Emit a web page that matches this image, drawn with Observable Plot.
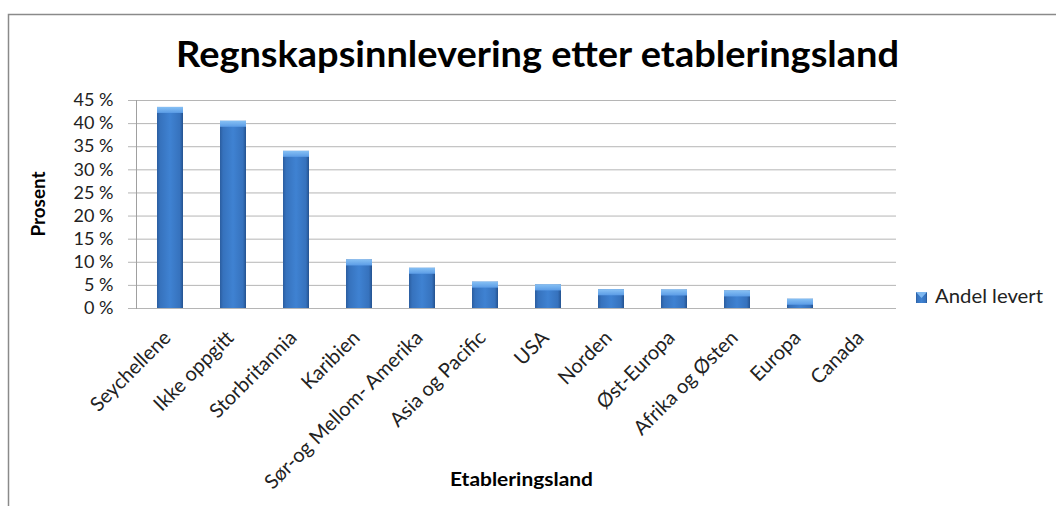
<!DOCTYPE html>
<html>
<head>
<meta charset="utf-8">
<script src="https://cdn.jsdelivr.net/npm/d3@7"></script>
<script src="https://cdn.jsdelivr.net/npm/@observablehq/plot@0.6"></script>
<style>
  html, body { margin: 0; padding: 0; background: #fff; }
  #chart svg { display: block; }
</style>
</head>
<body>
<div id="chart"></div>
<script>
const titleText = "Regnskapsinnlevering etter etableringsland";
const yLabel = "Prosent";
const xLabel = "Etableringsland";
const seriesName = "Andel levert";

const categories = [
  "Seychellene", "Ikke oppgitt", "Storbritannia", "Karibien",
  "Sør-og Mellom- Amerika", "Asia og Pacific", "USA", "Norden",
  "Øst-Europa", "Afrika og Østen", "Europa", "Canada"
];
const values = [43.5, 40.5, 34.0, 10.5, 8.7, 5.7, 5.1, 4.05, 4.0, 3.8, 2.0, 0];
const yTicks = [0, 5, 10, 15, 20, 25, 30, 35, 40, 45];

const data = categories.map((c, i) => ({category: c, value: values[i]}));

const W = 1056, H = 506;
const font = "Lato, 'Open Sans', sans-serif";

const chart = Plot.plot({
  width: W,
  height: H,
  marginLeft: 136,
  marginRight: 160,
  marginTop: 100,
  marginBottom: 198,
  style: {fontFamily: font, background: "#fff", color: "#222", overflow: "visible"},
  x: {domain: categories, paddingInner: 0.59, paddingOuter: 0.295, label: null},
  y: {domain: [0, 45], label: null},
  marks: [
    Plot.gridY(yTicks, {stroke: "#b5b5b5", strokeOpacity: 1, strokeWidth: 1}),
    Plot.axisY(yTicks, {
      tickSize: 8, tickPadding: 15, stroke: "#b5b5b5", strokeOpacity: 1,
      tickFormat: d => `${d} %`, fontSize: 18, fill: "#222", label: null
    }),
    Plot.frame({anchor: "left", stroke: "#a0a0a0"}),
    Plot.axisX({
      tickSize: 0, tickRotate: -45, tickPadding: 26, fontSize: 20,
      fill: "#222", label: null, dx: -3
    }),
    Plot.barY(data, {x: "category", y: "value", fill: "url(#barGrad)",
      style: {filter: "drop-shadow(2px 2px 1.5px rgba(0,0,0,0.35))"}}),
    Plot.barY(data.filter(d => d.value > 0), {
      x: "category", y1: "value", y2: "value", insetBottom: -6,
      fill: "url(#capGrad)"
    })
  ]
});

const svg = d3.select(chart);
const defs = svg.insert("defs", ":first-child");
const g1 = defs.append("linearGradient").attr("id", "barGrad")
  .attr("x1", "0").attr("x2", "1").attr("y1", "0").attr("y2", "0");
g1.append("stop").attr("offset", "0%").attr("stop-color", "#2b5d9f");
g1.append("stop").attr("offset", "12%").attr("stop-color", "#3672bd");
g1.append("stop").attr("offset", "50%").attr("stop-color", "#3f82d2");
g1.append("stop").attr("offset", "88%").attr("stop-color", "#3672bd");
g1.append("stop").attr("offset", "100%").attr("stop-color", "#24528f");
const g2 = defs.append("linearGradient").attr("id", "capGrad")
  .attr("x1", "0").attr("x2", "0").attr("y1", "0").attr("y2", "1");
g2.append("stop").attr("offset", "0%").attr("stop-color", "#86c0f4");
g2.append("stop").attr("offset", "100%").attr("stop-color", "#5b9ce6");

// outer chart border
svg.append("rect").attr("x", 8.5).attr("y", 14.5).attr("width", W + 20).attr("height", H + 20)
  .attr("fill", "none").attr("stroke", "#8a8a8a").attr("stroke-width", 1.5);

// title
svg.append("text").text(titleText)
  .attr("x", 176).attr("y", 67).attr("text-anchor", "start")
  .attr("textLength", 723).attr("lengthAdjust", "spacingAndGlyphs")
  .attr("font-family", font).attr("font-weight", "bold").attr("font-size", 36).attr("fill", "#000");

// y axis label
svg.append("text").text(yLabel)
  .attr("transform", "translate(45,204) rotate(-90)")
  .attr("text-anchor", "middle")
  .attr("textLength", 65).attr("lengthAdjust", "spacingAndGlyphs")
  .attr("font-family", font).attr("font-weight", "bold").attr("font-size", 18).attr("fill", "#000");

// x axis label
svg.append("text").text(xLabel)
  .attr("x", 450).attr("y", 486).attr("text-anchor", "start")
  .attr("textLength", 143).attr("lengthAdjust", "spacingAndGlyphs")
  .attr("font-family", font).attr("font-weight", "bold").attr("font-size", 18).attr("fill", "#000");

// legend
svg.append("rect").attr("x", 916).attr("y", 292).attr("width", 11).attr("height", 11)
  .attr("fill", "url(#barGrad)");
svg.append("path").attr("d", "M916,292 L927,292 L921.5,298 Z").attr("fill", "#7fb8f0");
svg.append("text").text(seriesName)
  .attr("x", 935).attr("y", 303).attr("text-anchor", "start")
  .attr("textLength", 108).attr("lengthAdjust", "spacingAndGlyphs")
  .attr("font-family", font).attr("font-size", 19).attr("fill", "#222");

document.getElementById("chart").appendChild(chart);
</script>
</body>
</html>
